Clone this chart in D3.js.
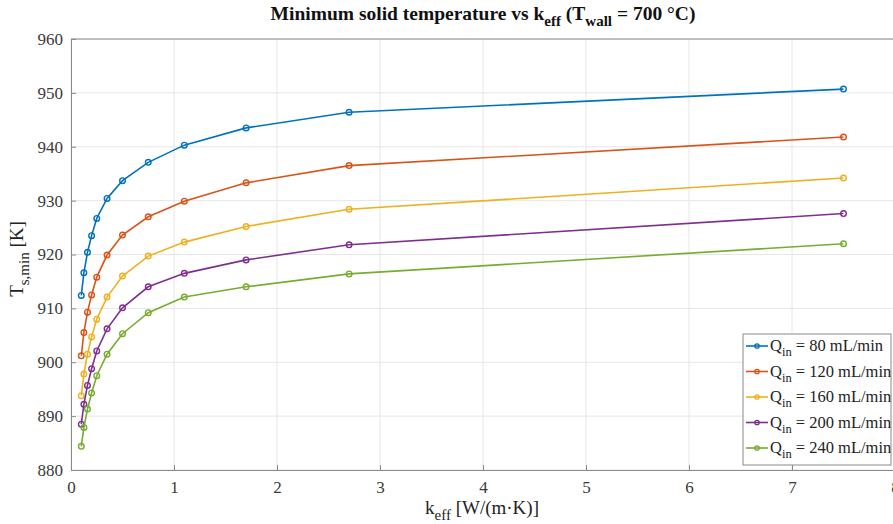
<!DOCTYPE html>
<html>
<head>
<meta charset="utf-8">
<script src="https://cdn.jsdelivr.net/npm/d3@7"></script>
<style>
  body { margin: 0; background: #fff; }
  svg, svg text { font-family: "Liberation Serif", "Times New Roman", serif; }
  svg { display: block; }
</style>
</head>
<body>
<div id="chart"></div>
<script>
// k_eff values (x) shared by every series
const kEff = [0.1, 0.125, 0.16, 0.2, 0.25, 0.35, 0.5, 0.75, 1.1, 1.7, 2.7, 7.5];

// T_s,min [K] per inlet flow rate
const q80 = [912.4, 916.6, 920.4, 923.5, 926.7, 930.4, 933.7, 937.1, 940.3, 943.5, 946.4, 950.7];
const q120 = [901.2, 905.5, 909.3, 912.5, 915.8, 919.9, 923.6, 927.0, 929.9, 933.3, 936.5, 941.8];
const q160 = [893.8, 897.8, 901.5, 904.7, 908.0, 912.1, 916.0, 919.7, 922.3, 925.2, 928.4, 934.2];
const q200 = [888.5, 892.2, 895.7, 898.8, 902.1, 906.2, 910.1, 914.0, 916.5, 919.0, 921.8, 927.6];
const q240 = [884.4, 887.9, 891.3, 894.3, 897.5, 901.5, 905.3, 909.2, 912.1, 914.0, 916.4, 922.0];

const flowRates = [80, 120, 160, 200, 240];
const xTicks = [0, 1, 2, 3, 4, 5, 6, 7, 8];
const yTicks = [880, 890, 900, 910, 920, 930, 940, 950, 960];

class LineChart {
  constructor(_config, data) {
    this.config = {
      parentElement: _config.parentElement,
      containerWidth: 893,
      containerHeight: 524,
      margin: { top: 39, right: -2, bottom: 54, left: 71 },
      colors: ["#0072BD", "#D95319", "#EDB120", "#7E2F8E", "#77AC30"],
    };
    this.data = data;
    this.initVis();
  }

  initVis() {
    let vis = this;

    vis.width = vis.config.containerWidth - vis.config.margin.left - vis.config.margin.right;
    vis.height = vis.config.containerHeight - vis.config.margin.top - vis.config.margin.bottom;

    vis.svg = d3
      .select(vis.config.parentElement)
      .append("svg")
      .attr("width", vis.config.containerWidth)
      .attr("height", vis.config.containerHeight);

    vis.chart = vis.svg
      .append("g")
      .attr("transform", `translate(${vis.config.margin.left},${vis.config.margin.top})`);

    vis.xScale = d3.scaleLinear().domain([0, 8]).range([0, vis.width]);
    vis.yScale = d3.scaleLinear().domain([880, 960]).range([vis.height, 0]);

    // grid
    vis.chart
      .append("g")
      .selectAll("line")
      .data(xTicks)
      .join("line")
      .attr("x1", (d) => vis.xScale(d))
      .attr("x2", (d) => vis.xScale(d))
      .attr("y1", 0)
      .attr("y2", vis.height)
      .style("stroke", "#e6e6e6");
    vis.chart
      .append("g")
      .selectAll("line")
      .data(yTicks)
      .join("line")
      .attr("x1", 0)
      .attr("x2", vis.width)
      .attr("y1", (d) => vis.yScale(d))
      .attr("y2", (d) => vis.yScale(d))
      .style("stroke", "#e6e6e6");

    // axes, MATLAB style ticks pointing inward
    vis.xAxis = d3.axisBottom(vis.xScale).tickValues(xTicks).tickSizeInner(-5).tickSizeOuter(0).tickPadding(11);
    vis.yAxis = d3.axisLeft(vis.yScale).tickValues(yTicks).tickSizeInner(-5).tickSizeOuter(0).tickPadding(8);

    vis.xAxisG = vis.chart.append("g").attr("transform", `translate(0,${vis.height})`).call(vis.xAxis);
    vis.yAxisG = vis.chart.append("g").call(vis.yAxis);
    vis.chart
      .append("line")
      .attr("x1", 0)
      .attr("x2", vis.width)
      .attr("y1", 0)
      .attr("y2", 0)
      .style("stroke", "#8a8a8a");

    [vis.xAxisG, vis.yAxisG].forEach((g) => {
      g.attr("font-family", null).attr("font-size", null);
      g.selectAll("path, line").style("stroke", "#8a8a8a");
      g.selectAll("text").style("font-size", "17px").style("fill", "#3a3a3a");
    });

    // title
    const title = vis.svg
      .append("text")
      .attr("x", 483)
      .attr("y", 20)
      .style("text-anchor", "middle")
      .style("font-size", "19.5px")
      .style("font-weight", "bold")
      .style("fill", "#111");
    title.append("tspan").text("Minimum solid temperature vs k");
    title.append("tspan").attr("dy", 6).style("font-size", "15px").text("eff");
    title.append("tspan").attr("dy", -6).text(" (T");
    title.append("tspan").attr("dy", 6).style("font-size", "15px").text("wall");
    title.append("tspan").attr("dy", -6).text(" = 700 °C)");

    // axis labels
    const xl = vis.svg
      .append("text")
      .attr("x", 482)
      .attr("y", 514)
      .style("text-anchor", "middle")
      .style("font-size", "19px")
      .style("fill", "#222");
    xl.append("tspan").text("k");
    xl.append("tspan").attr("dy", 6).style("font-size", "15px").text("eff");
    xl.append("tspan").attr("dy", -6).text(" [W/(m·K)]");

    const yl = vis.svg
      .append("text")
      .attr("transform", "translate(23,259) rotate(-90)")
      .style("text-anchor", "middle")
      .style("font-size", "19px")
      .style("fill", "#222");
    yl.append("tspan").text("T");
    yl.append("tspan").attr("dy", 6).style("font-size", "15px").text("s,min");
    yl.append("tspan").attr("dy", -6).text(" [K]");
  }

  updateVis() {
    let vis = this;
    vis.line = d3
      .line()
      .x((d) => vis.xScale(d.k))
      .y((d) => vis.yScale(d.t));
    vis.renderVis();
  }

  renderVis() {
    let vis = this;

    const series = vis.chart
      .selectAll(".series")
      .data(vis.data)
      .join("g")
      .attr("class", "series");

    series
      .append("path")
      .attr("d", (d) => vis.line(d.values))
      .style("fill", "none")
      .style("stroke", (d, i) => vis.config.colors[i])
      .style("stroke-width", 1.6);

    series
      .selectAll("circle")
      .data((d, i) => d.values.map((v) => ({ ...v, c: vis.config.colors[i] })))
      .join("circle")
      .attr("cx", (d) => vis.xScale(d.k))
      .attr("cy", (d) => vis.yScale(d.t))
      .attr("r", 2.8)
      .style("fill", "none")
      .style("stroke", (d) => d.c)
      .style("stroke-width", 1.4);

    // legend
    const lg = vis.svg.append("g").attr("transform", "translate(743,334)");
    lg.append("rect")
      .attr("width", 148)
      .attr("height", 131)
      .style("fill", "#fff")
      .style("stroke", "#8a8a8a");
    const item = lg
      .selectAll(".item")
      .data(vis.data)
      .join("g")
      .attr("transform", (d, i) => `translate(0,${12 + i * 25.5})`);
    item
      .append("line")
      .attr("x1", 3)
      .attr("x2", 25)
      .style("stroke", (d, i) => vis.config.colors[i])
      .style("stroke-width", 1.6);
    item
      .append("circle")
      .attr("cx", 14)
      .attr("r", 2.2)
      .style("fill", "none")
      .style("stroke", (d, i) => vis.config.colors[i])
      .style("stroke-width", 1.3);
    const lt = item.append("text").attr("x", 27).attr("y", 5).style("font-size", "16.5px").style("fill", "#222");
    lt.append("tspan").text("Q");
    lt.append("tspan").attr("dy", 5).style("font-size", "12.5px").text("in");
    lt.append("tspan").attr("dy", -5).text((d) => ` = ${d.rate} mL/min`);
  }
}

const data = [q80, q120, q160, q200, q240].map((vals, i) => ({
  rate: flowRates[i],
  values: vals.map((t, j) => ({ k: kEff[j], t: t })),
}));

const chart = new LineChart({ parentElement: "#chart" }, data);
chart.updateVis();
</script>
</body>
</html>
